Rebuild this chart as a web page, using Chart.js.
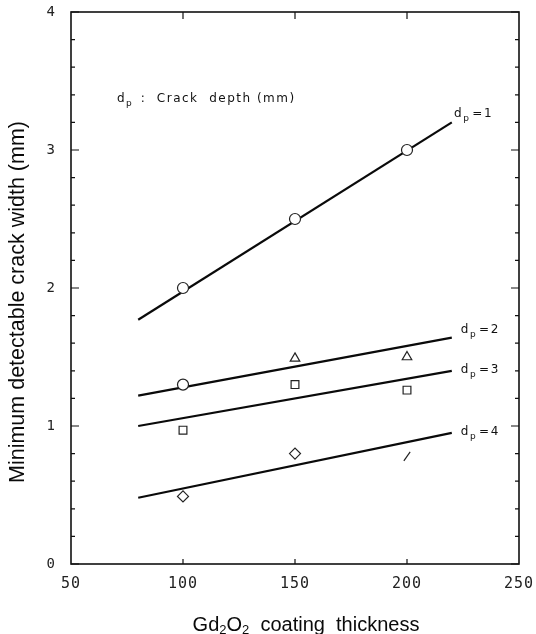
<!DOCTYPE html>
<html>
<head>
<meta charset="utf-8">
<script src="https://cdn.jsdelivr.net/npm/chart.js@4.4.0/dist/chart.umd.min.js"></script>
<style>
  html, body { margin: 0; padding: 0; background: #fff; }
  #wrap { width: 536px; height: 634px; }
</style>
</head>
<body>
<div id="wrap"><canvas id="graphique" width="536" height="634"></canvas></div>
<script>
// fitted lines (drawn from 80 to 220)
const xLine = [80, 220];
const dp1Line = [1.77, 3.20];
const dp2Line = [1.22, 1.64];
const dp3Line = [1.00, 1.40];
const dp4Line = [0.48, 0.95];

// measured points
const xMeas = [100, 150, 200];
const dp1Meas = [2.00, 2.50, 3.00];
const dp2Meas = [1.30, 1.49, 1.50];
const dp3Meas = [0.97, 1.30, 1.26];
const dp4Meas = [0.49, 0.80, 0.78];

const depthNames = ['1', '2', '3', '4'];
const xTicks = [50, 100, 150, 200, 250];
const yTicks = [0, 1, 2, 3, 4];

function pts(xs, ys) {
    return xs.map((x, i) => ({ x: x, y: ys[i] }));
}

function ligne(ys) {
    return {
        type: 'line',
        data: pts(xLine, ys),
        borderColor: '#0a0a0a',
        borderWidth: 2.2,
        pointRadius: 0,
        fill: false,
        order: 2
    };
}

function mesures(ys, style, rot) {
    return {
        type: 'scatter',
        data: pts(xMeas, ys),
        pointStyle: style,
        rotation: rot || 0,
        pointRadius: 5.5,
        backgroundColor: '#fff',
        borderColor: '#222',
        borderWidth: 1.2,
        order: 1
    };
}

// label anchors in data units (x, y)
const etiquettes = [
    [221, 3.26],
    [224, 1.70],
    [224, 1.41],
    [224, 0.96]
];

const cadre = {
    id: 'cadre',
    beforeDraw(chart) {
        chart.ctx.letterSpacing = '1px';
    },
    beforeDatasetsDraw(chart) {
        chart.ctx.letterSpacing = '0px';
    },
    afterDraw(chart) {
        const ctx = chart.ctx;
        const a = chart.chartArea;
        const sx = chart.scales.x;
        const sy = chart.scales.y;
        ctx.save();
        ctx.strokeStyle = '#111';
        ctx.lineWidth = 1.6;
        ctx.strokeRect(a.left, a.top, a.right - a.left, a.bottom - a.top);

        // inward ticks
        ctx.lineWidth = 1.2;
        ctx.beginPath();
        sy.ticks.forEach(t => {
            const y = sy.getPixelForValue(t.value);
            const maj = Math.abs(t.value - Math.round(t.value)) < 1e-6;
            const len = maj ? 8 : 4;
            ctx.moveTo(a.left, y); ctx.lineTo(a.left + len, y);
            ctx.moveTo(a.right, y); ctx.lineTo(a.right - len, y);
        });
        sx.ticks.forEach(t => {
            if (t.value <= sx.min || t.value >= sx.max) return;
            const x = sx.getPixelForValue(t.value);
            ctx.moveTo(x, a.top); ctx.lineTo(x, a.top + 7);
            ctx.moveTo(x, a.bottom); ctx.lineTo(x, a.bottom - 5);
        });
        ctx.stroke();

        // axis titles
        ctx.fillStyle = '#0a0a0a';
        ctx.textBaseline = 'middle';
        ctx.font = '21.5px "Liberation Sans", Arial, sans-serif';
        ctx.save();
        ctx.translate(18, 302);
        ctx.rotate(-Math.PI / 2);
        ctx.textAlign = 'center';
        ctx.fillText('Minimum detectable crack width (mm)', 0, 0);
        ctx.restore();

        const parts = [['Gd', 0], ['2', 1], ['O', 0], ['2', 1], ['  coating  thickness', 0]];
        const big = '20px "Liberation Sans", Arial, sans-serif';
        const small = '13px "Liberation Sans", Arial, sans-serif';
        let total = 0;
        parts.forEach(p => { ctx.font = p[1] ? small : big; total += ctx.measureText(p[0]).width; });
        let x = 306 - total / 2;
        ctx.textAlign = 'left';
        parts.forEach(p => {
            ctx.font = p[1] ? small : big;
            ctx.fillText(p[0], x, p[1] ? 630 : 625);
            x += ctx.measureText(p[0]).width;
        });

        // notes
        ctx.fillStyle = '#111';
        ctx.letterSpacing = '1.5px';
        const note = (px, py, rest) => {
            ctx.font = '12px "DejaVu Sans", sans-serif';
            ctx.fillText('d', px, py);
            let w = ctx.measureText('d').width;
            ctx.font = '9px "DejaVu Sans", sans-serif';
            ctx.fillText('p', px + w, py + 5);
            w += ctx.measureText('p').width + 2;
            ctx.font = '12px "DejaVu Sans", sans-serif';
            ctx.fillText(rest, px + w, py);
        };
        note(117, 99, ' :  Crack  depth (mm)');
        etiquettes.forEach((e, i) => {
            note(sx.getPixelForValue(e[0]), sy.getPixelForValue(e[1]), '=' + depthNames[i]);
        });
        ctx.restore();
    }
};

const ctx = document.getElementById('graphique').getContext('2d');
new Chart(ctx, {
    data: {
        datasets: [
            ligne(dp1Line), ligne(dp2Line), ligne(dp3Line), ligne(dp4Line),
            mesures(dp1Meas, 'circle'),
            mesures(dp2Meas, ['circle', 'triangle', 'triangle']),
            mesures(dp3Meas, 'rect'),
            mesures(dp4Meas, ['rectRot', 'rectRot', 'line'], [0, 0, -55])
        ]
    },
    options: {
        responsive: false,
        animation: false,
        layout: { padding: { left: 0, right: 17, top: 12, bottom: 0 } },
        plugins: { legend: { display: false }, tooltip: { enabled: false } },
        scales: {
            x: {
                type: 'linear',
                min: 50,
                max: 250,
                afterBuildTicks: s => { s.ticks = xTicks.map(v => ({ value: v })); },
                grid: { display: false },
                border: { display: false },
                ticks: {
                    color: '#222',
                    padding: 3,
                    font: { family: '"DejaVu Sans Mono", monospace', size: 15 }
                },
                afterFit: s => { s.height = 70; s.paddingLeft = 0; s.paddingRight = 0; }
            },
            y: {
                min: 0,
                max: 4,
                grid: { display: false },
                border: { display: false },
                ticks: {
                    stepSize: 0.2,
                    color: '#222',
                    padding: 7,
                    font: { family: '"DejaVu Sans Mono", monospace', size: 14 },
                    callback: v => {
                        const r = Math.round(v);
                        return (Math.abs(v - r) < 1e-6 && yTicks.includes(r)) ? String(r) : '';
                    }
                },
                afterFit: s => { s.width = 71; s.paddingTop = 0; s.paddingBottom = 0; }
            }
        }
    },
    plugins: [cadre]
});
</script>
</body>
</html>
